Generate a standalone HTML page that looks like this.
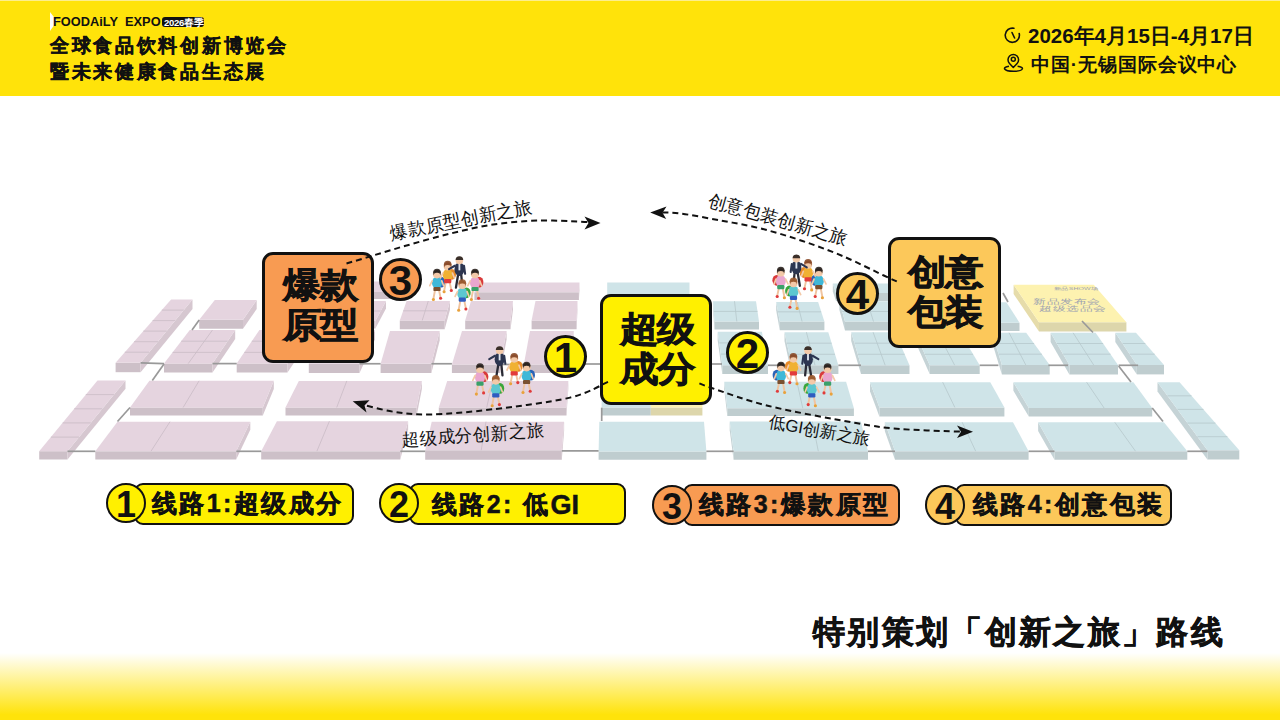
<!DOCTYPE html>
<html><head><meta charset="utf-8">
<style>
*{margin:0;padding:0;box-sizing:border-box}
html,body{width:1280px;height:720px;overflow:hidden;background:#fff;font-family:"Liberation Sans",sans-serif}
.abs{position:absolute}
#hdr{left:0;top:0;width:1280px;height:96px;background:#ffe30a;border-top:1px solid #fdee8c}
#foot{left:0;top:653px;width:1280px;height:67px;background:linear-gradient(#fff,#ffe30a 92%)}
.t{position:absolute;white-space:nowrap;font-weight:bold;color:#111;line-height:1}
.box{position:absolute;border:3px solid #111;border-radius:11px}
.bt{position:absolute;white-space:nowrap;font-weight:bold;color:#111;font-size:38px;line-height:44px;transform:scaleY(0.91);transform-origin:0 0;-webkit-text-stroke:0.9px #111;letter-spacing:-1px}
.circ{position:absolute;border:3px solid #111;border-radius:50%;text-align:center;font-weight:bold;color:#111;width:43px;height:43px;font-size:42px;line-height:39px}
.pill{position:absolute;border:2.2px solid #111;border-radius:9px;height:42px}
.pc{position:absolute;border:2.2px solid #111;border-radius:50%;width:40px;height:40px;text-align:center;font-weight:bold;font-size:36px;line-height:39px;color:#111}
.pt{position:absolute;white-space:nowrap;font-weight:bold;font-size:25px;line-height:1;color:#111;letter-spacing:2.4px;-webkit-text-stroke:0.5px #111}
</style></head><body>
<div id="hdr" class="abs"></div>
<div id="foot" class="abs"></div>
<!-- header left -->
<svg class="abs" style="left:49px;top:11px" width="10" height="21"><polygon points="1,1 8,10 1,20" fill="#fff"/></svg>
<div class="t" style="left:53px;top:16px;font-size:12.8px;letter-spacing:0px">FOODAiLY&nbsp;&nbsp;EXPO</div>
<div class="abs" style="left:162px;top:17px;width:42px;height:10px;background:#111;border-radius:3px"></div>
<div class="t" style="left:164px;top:17.5px;font-size:9.5px;color:#fff;letter-spacing:-0.3px">2026春季</div>
<svg class="abs" style="left:1000px;top:24px" width="30" height="52"><path d="M1013.9,28.3 A7.1,7.1 0 1 0 1019.2,33.5" transform="translate(-1000,-24)" fill="none" stroke="#111" stroke-width="1.6" stroke-linecap="round"/><path d="M1012,32.5 L1014.6,38" transform="translate(-1000,-24)" fill="none" stroke="#111" stroke-width="1.6" stroke-linecap="round"/><g transform="translate(-1000,-24)" fill="none" stroke="#111" stroke-width="1.5"><path d="M1013.3,67.5 L1009.5,63.5 A5.3,5.3 0 1 1 1017.1,63.5 Z" stroke-linejoin="round"/><circle cx="1013.3" cy="59.3" r="2"/><path d="M1009,66.2 C1002,67 1003,71.2 1013.5,71.2 C1024,71.2 1025,67 1017.6,66.2"/></g></svg>
<div class="t" style="left:50px;top:36px;font-size:19px;letter-spacing:2.7px;-webkit-text-stroke:0.4px #111">全球食品饮料创新博览会</div>
<div class="t" style="left:50px;top:62px;font-size:19px;letter-spacing:2.7px;-webkit-text-stroke:0.4px #111">暨未来健康食品生态展</div>
<!-- header right -->
<div class="t" style="left:1028px;top:25.5px;font-size:20.5px;letter-spacing:0px">2026年4月15日-4月17日</div>
<div class="t" style="left:1031px;top:54.5px;font-size:19px;letter-spacing:0.9px">中国·无锡国际会议中心</div>

<svg id="map" class="abs" style="left:0;top:0" width="1280" height="720">
<polygon points="115.6,362.8 140.6,362.8 140.6,372.2 115.6,372.2" fill="#cdc0c8"/>
<polygon points="192.5,299.5 140.6,362.8 140.6,372.2 192.5,308.9" fill="#d6c7d0"/>
<polygon points="171.1,299.5 192.5,299.5 140.6,362.8 115.6,362.8" fill="#e5d4df"/>
<polygon points="199.2,319.8 243.0,319.8 243.0,328.8 199.2,328.8" fill="#cdc0c8"/>
<polygon points="256.7,300.0 243.0,319.8 243.0,328.8 256.7,308.9" fill="#d6c7d0"/>
<polygon points="214.8,300.0 256.7,300.0 243.0,319.8 199.2,319.8" fill="#e5d4df"/>
<polygon points="164.0,363.6 212.5,363.6 212.5,372.5 164.0,372.5" fill="#cdc0c8"/>
<polygon points="235.2,330.0 212.5,363.6 212.5,372.5 235.2,338.9" fill="#d6c7d0"/>
<polygon points="189.8,330.0 235.2,330.0 212.5,363.6 164.0,363.6" fill="#e5d4df"/>
<polygon points="236.7,363.6 287.5,363.6 287.5,372.5 236.7,372.5" fill="#cdc0c8"/>
<polygon points="310.0,330.0 287.5,363.6 287.5,372.5 310.0,338.9" fill="#d6c7d0"/>
<polygon points="259.4,330.0 310.0,330.0 287.5,363.6 236.7,363.6" fill="#e5d4df"/>
<polygon points="308.8,363.8 359.5,363.8 359.5,373.1 308.8,373.1" fill="#cdc0c8"/>
<polygon points="375.0,330.0 359.5,363.8 359.5,373.1 375.0,339.4" fill="#d6c7d0"/>
<polygon points="325.0,330.0 375.0,330.0 359.5,363.8 308.8,363.8" fill="#e5d4df"/>
<polygon points="328.0,292.0 398.0,292.0 398.0,299.0 328.0,299.0" fill="#cdc0c8"/>
<polygon points="400.0,281.5 398.0,292.0 398.0,299.0 400.0,288.5" fill="#d6c7d0"/>
<polygon points="330.0,281.5 400.0,281.5 398.0,292.0 328.0,292.0" fill="#e5d4df"/>
<polygon points="322.0,321.0 375.4,321.0 375.4,328.4 322.0,328.4" fill="#cdc0c8"/>
<polygon points="386.0,301.0 375.4,321.0 375.4,328.4 386.0,308.4" fill="#d6c7d0"/>
<polygon points="330.0,301.0 386.0,301.0 375.4,321.0 322.0,321.0" fill="#e5d4df"/>
<polygon points="380.6,363.8 431.4,363.8 431.4,373.1 380.6,373.1" fill="#cdc0c8"/>
<polygon points="439.7,331.0 431.4,363.8 431.4,373.1 439.7,340.4" fill="#d6c7d0"/>
<polygon points="390.0,331.0 439.7,331.0 431.4,363.8 380.6,363.8" fill="#e5d4df"/>
<polygon points="399.8,320.5 444.7,320.5 444.7,329.3 399.8,329.3" fill="#cdc0c8"/>
<polygon points="450.0,301.0 444.7,320.5 444.7,329.3 450.0,309.8" fill="#d6c7d0"/>
<polygon points="406.6,301.0 450.0,301.0 444.7,320.5 399.8,320.5" fill="#e5d4df"/>
<polygon points="465.2,320.5 510.5,320.5 510.5,329.3 465.2,329.3" fill="#cdc0c8"/>
<polygon points="513.0,301.0 510.5,320.5 510.5,329.3 513.0,309.8" fill="#d6c7d0"/>
<polygon points="471.0,301.0 513.0,301.0 510.5,320.5 465.2,320.5" fill="#e5d4df"/>
<polygon points="451.9,364.5 500.3,364.5 500.3,373.1 451.9,373.1" fill="#cdc0c8"/>
<polygon points="506.6,331.0 500.3,364.5 500.3,373.1 506.6,339.6" fill="#d6c7d0"/>
<polygon points="462.0,331.0 506.6,331.0 500.3,364.5 451.9,364.5" fill="#e5d4df"/>
<polygon points="474.4,292.2 578.9,292.2 578.9,300.0 474.4,300.0" fill="#cdc0c8"/>
<polygon points="579.5,282.5 578.9,292.2 578.9,300.0 579.5,290.3" fill="#d6c7d0"/>
<polygon points="477.0,282.5 579.5,282.5 578.9,292.2 474.4,292.2" fill="#e5d4df"/>
<polygon points="531.6,320.5 576.6,320.5 576.6,329.3 531.6,329.3" fill="#cdc0c8"/>
<polygon points="577.5,301.0 576.6,320.5 576.6,329.3 577.5,309.8" fill="#d6c7d0"/>
<polygon points="535.5,301.0 577.5,301.0 576.6,320.5 531.6,320.5" fill="#e5d4df"/>
<polygon points="523.8,364.5 571.0,364.5 571.0,373.1 523.8,373.1" fill="#cdc0c8"/>
<polygon points="573.8,331.0 571.0,364.5 571.0,373.1 573.8,339.6" fill="#d6c7d0"/>
<polygon points="530.0,331.0 573.8,331.0 571.0,364.5 523.8,364.5" fill="#e5d4df"/>
<polygon points="39.2,451.2 67.5,451.2 67.5,459.5 39.2,459.5" fill="#cdc0c8"/>
<polygon points="125.5,380.5 67.5,451.2 67.5,459.5 125.5,388.8" fill="#d6c7d0"/>
<polygon points="97.5,380.5 125.5,380.5 67.5,451.2 39.2,451.2" fill="#e5d4df"/>
<polygon points="130.0,407.5 262.8,407.5 262.8,415.6 130.0,415.6" fill="#cdc0c8"/>
<polygon points="273.8,380.8 262.8,407.5 262.8,415.6 273.8,388.9" fill="#d6c7d0"/>
<polygon points="149.4,380.8 273.8,380.8 262.8,407.5 130.0,407.5" fill="#e5d4df"/>
<polygon points="95.3,451.2 236.2,451.2 236.2,459.4 95.3,459.4" fill="#cdc0c8"/>
<polygon points="250.3,421.7 236.2,451.2 236.2,459.4 250.3,429.8" fill="#d6c7d0"/>
<polygon points="117.5,421.7 250.3,421.7 236.2,451.2 95.3,451.2" fill="#e5d4df"/>
<polygon points="285.5,407.5 416.7,407.5 416.7,415.6 285.5,415.6" fill="#cdc0c8"/>
<polygon points="421.9,380.9 416.7,407.5 416.7,415.6 421.9,389.0" fill="#d6c7d0"/>
<polygon points="298.8,380.9 421.9,380.9 416.7,407.5 285.5,407.5" fill="#e5d4df"/>
<polygon points="261.2,451.2 400.3,451.2 400.3,459.4 261.2,459.4" fill="#cdc0c8"/>
<polygon points="408.1,421.2 400.3,451.2 400.3,459.4 408.1,429.4" fill="#d6c7d0"/>
<polygon points="276.9,421.2 408.1,421.2 400.3,451.2 261.2,451.2" fill="#e5d4df"/>
<polygon points="438.8,407.6 566.5,407.6 566.5,415.6 438.8,415.6" fill="#cdc0c8"/>
<polygon points="568.3,381.0 566.5,407.6 566.5,415.6 568.3,389.0" fill="#d6c7d0"/>
<polygon points="447.2,381.0 568.3,381.0 566.5,407.6 438.8,407.6" fill="#e5d4df"/>
<polygon points="425.2,450.3 561.8,450.3 561.8,459.7 425.2,459.7" fill="#cdc0c8"/>
<polygon points="564.1,421.7 561.8,450.3 561.8,459.7 564.1,431.1" fill="#d6c7d0"/>
<polygon points="431.7,421.7 564.1,421.7 561.8,450.3 425.2,450.3" fill="#e5d4df"/>
<polygon points="607.2,300.0 689.5,300.0 689.5,308.0 607.2,308.0" fill="#bfcdcf"/>
<polygon points="607.2,282.5 689.5,282.5 689.5,300.0 607.2,300.0" fill="#cfe4e8"/>
<polygon points="601.6,407.6 650.8,407.6 650.8,415.6 601.6,415.6" fill="#bfcdcf"/>
<polygon points="601.6,392.0 650.8,392.0 650.8,407.6 601.6,407.6" fill="#cfe4e8"/>
<polygon points="650.8,407.6 702.4,407.6 702.4,415.6 650.8,415.6" fill="#ddd6ab"/>
<polygon points="650.8,392.0 702.4,392.0 702.4,407.6 650.8,407.6" fill="#fdf2b0"/>
<polygon points="598.6,451.5 706.4,451.5 706.4,459.7 598.6,459.7" fill="#bfcdcf"/>
<polygon points="599.3,421.7 704.0,421.7 706.4,451.5 598.6,451.5" fill="#cfe4e8"/>
<polygon points="714.5,321.5 759.0,321.5 759.0,329.4 714.5,329.4" fill="#bfcdcf"/>
<polygon points="713.0,301.2 714.5,321.5 714.5,329.4 713.0,309.1" fill="#c5d3d6"/>
<polygon points="713.0,301.2 756.0,301.2 759.0,321.5 714.5,321.5" fill="#cfe4e8"/>
<polygon points="779.8,321.6 824.4,321.6 824.4,330.2 779.8,330.2" fill="#bfcdcf"/>
<polygon points="776.2,302.0 779.8,321.6 779.8,330.2 776.2,310.6" fill="#c5d3d6"/>
<polygon points="776.2,302.0 818.1,302.0 824.4,321.6 779.8,321.6" fill="#cfe4e8"/>
<polygon points="836.0,293.0 894.0,293.0 894.0,301.0 836.0,301.0" fill="#bfcdcf"/>
<polygon points="832.8,283.4 836.0,293.0 836.0,301.0 832.8,291.4" fill="#c5d3d6"/>
<polygon points="832.8,283.4 890.0,283.4 894.0,293.0 836.0,293.0" fill="#cfe4e8"/>
<polygon points="845.0,321.6 902.0,321.6 902.0,330.4 845.0,330.4" fill="#bfcdcf"/>
<polygon points="839.4,301.3 845.0,321.6 845.0,330.4 839.4,310.1" fill="#c5d3d6"/>
<polygon points="839.4,301.3 895.0,301.3 902.0,321.6 845.0,321.6" fill="#cfe4e8"/>
<polygon points="972.0,322.7 1019.5,322.7 1019.5,331.0 972.0,331.0" fill="#bfcdcf"/>
<polygon points="960.0,302.2 972.0,322.7 972.0,331.0 960.0,310.5" fill="#c5d3d6"/>
<polygon points="960.0,302.2 1006.4,302.2 1019.5,322.7 972.0,322.7" fill="#cfe4e8"/>
<polygon points="722.3,365.3 768.0,365.3 768.0,374.0 722.3,374.0" fill="#bfcdcf"/>
<polygon points="717.7,331.7 722.3,365.3 722.3,374.0 717.7,340.4" fill="#c5d3d6"/>
<polygon points="717.7,331.7 761.9,331.7 768.0,365.3 722.3,365.3" fill="#cfe4e8"/>
<polygon points="791.6,365.3 838.4,365.3 838.4,374.0 791.6,374.0" fill="#bfcdcf"/>
<polygon points="784.5,332.2 791.6,365.3 791.6,374.0 784.5,340.9" fill="#c5d3d6"/>
<polygon points="784.5,332.2 828.3,332.2 838.4,365.3 791.6,365.3" fill="#cfe4e8"/>
<polygon points="861.0,365.3 909.5,365.3 909.5,374.0 861.0,374.0" fill="#bfcdcf"/>
<polygon points="851.2,332.2 861.0,365.3 861.0,374.0 851.2,340.9" fill="#c5d3d6"/>
<polygon points="851.2,332.2 895.0,332.2 909.5,365.3 861.0,365.3" fill="#cfe4e8"/>
<polygon points="929.7,365.3 979.7,365.3 979.7,374.0 929.7,374.0" fill="#bfcdcf"/>
<polygon points="915.0,332.2 929.7,365.3 929.7,374.0 915.0,340.9" fill="#c5d3d6"/>
<polygon points="915.0,332.2 960.0,332.2 979.7,365.3 929.7,365.3" fill="#cfe4e8"/>
<polygon points="1001.9,365.0 1049.7,365.0 1049.7,374.4 1001.9,374.4" fill="#bfcdcf"/>
<polygon points="992.0,332.8 1001.9,365.0 1001.9,374.4 992.0,342.1" fill="#c5d3d6"/>
<polygon points="992.0,332.8 1026.2,332.8 1049.7,365.0 1001.9,365.0" fill="#cfe4e8"/>
<polygon points="1069.4,365.0 1118.0,365.0 1118.0,374.4 1069.4,374.4" fill="#bfcdcf"/>
<polygon points="1050.6,332.8 1069.4,365.0 1069.4,374.4 1050.6,342.1" fill="#c5d3d6"/>
<polygon points="1050.6,332.8 1095.6,332.8 1118.0,365.0 1069.4,365.0" fill="#cfe4e8"/>
<polygon points="1136.9,365.0 1164.0,365.0 1164.0,374.4 1136.9,374.4" fill="#bfcdcf"/>
<polygon points="1115.3,332.8 1136.9,365.0 1136.9,374.4 1115.3,342.1" fill="#c5d3d6"/>
<polygon points="1115.3,332.8 1136.0,332.8 1164.0,365.0 1136.9,365.0" fill="#cfe4e8"/>
<polygon points="1039.0,322.3 1126.4,322.3 1126.4,331.5 1039.0,331.5" fill="#ddd6ab"/>
<polygon points="1013.6,284.8 1039.0,322.3 1039.0,331.5 1013.6,294.0" fill="#e6dcaa"/>
<polygon points="1013.6,284.8 1093.7,284.8 1126.4,322.3 1039.0,322.3" fill="#fdf2b0"/>
<polygon points="727.3,408.3 853.9,408.3 853.9,416.1 727.3,416.1" fill="#bfcdcf"/>
<polygon points="724.2,381.7 727.3,408.3 727.3,416.1 724.2,389.5" fill="#c5d3d6"/>
<polygon points="724.2,381.7 846.1,381.7 853.9,408.3 727.3,408.3" fill="#cfe4e8"/>
<polygon points="879.4,407.5 1004.4,407.5 1004.4,416.6 879.4,416.6" fill="#bfcdcf"/>
<polygon points="870.0,382.2 879.4,407.5 879.4,416.6 870.0,391.3" fill="#c5d3d6"/>
<polygon points="870.0,382.2 990.3,382.2 1004.4,407.5 879.4,407.5" fill="#cfe4e8"/>
<polygon points="1028.8,408.0 1152.2,408.0 1152.2,416.6 1028.8,416.6" fill="#bfcdcf"/>
<polygon points="1013.4,382.2 1028.8,408.0 1028.8,416.6 1013.4,390.8" fill="#c5d3d6"/>
<polygon points="1013.4,382.2 1133.4,382.2 1152.2,408.0 1028.8,408.0" fill="#cfe4e8"/>
<polygon points="733.6,451.2 868.0,451.2 868.0,459.8 733.6,459.8" fill="#bfcdcf"/>
<polygon points="729.7,421.6 733.6,451.2 733.6,459.8 729.7,430.2" fill="#c5d3d6"/>
<polygon points="729.7,421.6 860.9,421.6 868.0,451.2 733.6,451.2" fill="#cfe4e8"/>
<polygon points="895.0,451.2 1028.6,451.2 1028.6,459.8 895.0,459.8" fill="#bfcdcf"/>
<polygon points="884.8,422.3 895.0,451.2 895.0,459.8 884.8,430.9" fill="#c5d3d6"/>
<polygon points="884.8,422.3 1013.0,422.3 1028.6,451.2 895.0,451.2" fill="#cfe4e8"/>
<polygon points="1054.5,451.2 1187.3,451.2 1187.3,459.8 1054.5,459.8" fill="#bfcdcf"/>
<polygon points="1038.1,422.3 1054.5,451.2 1054.5,459.8 1038.1,430.9" fill="#c5d3d6"/>
<polygon points="1038.1,422.3 1163.9,422.3 1187.3,451.2 1054.5,451.2" fill="#cfe4e8"/>
<polygon points="1207.4,450.3 1239.3,450.3 1239.3,459.6 1207.4,459.6" fill="#bfcdcf"/>
<polygon points="1157.5,382.2 1207.4,450.3 1207.4,459.6 1157.5,391.5" fill="#c5d3d6"/>
<polygon points="1157.5,382.2 1179.6,382.2 1239.3,450.3 1207.4,450.3" fill="#cfe4e8"/>
<line x1="161.8" y1="310.1" x2="183.8" y2="310.1" stroke="#c9bbc5" stroke-width="0.8"/>
<line x1="152.6" y1="320.6" x2="175.2" y2="320.6" stroke="#c9bbc5" stroke-width="0.8"/>
<line x1="143.3" y1="331.1" x2="166.6" y2="331.1" stroke="#c9bbc5" stroke-width="0.8"/>
<line x1="134.1" y1="341.7" x2="157.9" y2="341.7" stroke="#c9bbc5" stroke-width="0.8"/>
<line x1="124.8" y1="352.2" x2="149.2" y2="352.2" stroke="#c9bbc5" stroke-width="0.8"/>
<line x1="181.2" y1="341.2" x2="227.6" y2="341.2" stroke="#c9bbc5" stroke-width="0.8"/>
<line x1="172.6" y1="352.4" x2="220.1" y2="352.4" stroke="#c9bbc5" stroke-width="0.8"/>
<line x1="212.5" y1="330.0" x2="188.2" y2="363.6" stroke="#c9bbc5" stroke-width="0.8"/>
<line x1="251.8" y1="341.2" x2="302.5" y2="341.2" stroke="#c9bbc5" stroke-width="0.8"/>
<line x1="244.3" y1="352.4" x2="295.0" y2="352.4" stroke="#c9bbc5" stroke-width="0.8"/>
<line x1="403.2" y1="310.8" x2="447.4" y2="310.8" stroke="#c9bbc5" stroke-width="0.8"/>
<line x1="428.3" y1="301.0" x2="422.2" y2="320.5" stroke="#c9bbc5" stroke-width="0.8"/>
<line x1="85.8" y1="394.6" x2="113.9" y2="394.6" stroke="#c9bbc5" stroke-width="0.8"/>
<line x1="74.2" y1="408.8" x2="102.3" y2="408.8" stroke="#c9bbc5" stroke-width="0.8"/>
<line x1="62.6" y1="422.9" x2="90.7" y2="422.9" stroke="#c9bbc5" stroke-width="0.8"/>
<line x1="50.9" y1="437.1" x2="79.1" y2="437.1" stroke="#c9bbc5" stroke-width="0.8"/>
<line x1="199.1" y1="380.8" x2="183.1" y2="407.5" stroke="#c9bbc5" stroke-width="0.8"/>
<line x1="170.0" y1="421.7" x2="151.0" y2="451.2" stroke="#c9bbc5" stroke-width="0.8"/>
<line x1="346.8" y1="380.9" x2="336.7" y2="407.5" stroke="#c9bbc5" stroke-width="0.8"/>
<line x1="329.4" y1="421.2" x2="316.9" y2="451.2" stroke="#c9bbc5" stroke-width="0.8"/>
<line x1="492.6" y1="381.0" x2="486.7" y2="407.6" stroke="#c9bbc5" stroke-width="0.8"/>
<line x1="486.0" y1="421.7" x2="481.2" y2="450.3" stroke="#c9bbc5" stroke-width="0.8"/>
<line x1="796.9" y1="381.7" x2="802.8" y2="408.3" stroke="#b6c8cc" stroke-width="0.8"/>
<line x1="812.4" y1="421.6" x2="818.3" y2="451.2" stroke="#b6c8cc" stroke-width="0.8"/>
<line x1="942.7" y1="382.2" x2="954.9" y2="407.5" stroke="#b6c8cc" stroke-width="0.8"/>
<line x1="962.2" y1="422.3" x2="975.7" y2="451.2" stroke="#b6c8cc" stroke-width="0.8"/>
<line x1="1086.6" y1="382.2" x2="1104.1" y2="408.0" stroke="#b6c8cc" stroke-width="0.8"/>
<line x1="1114.8" y1="422.3" x2="1135.5" y2="451.2" stroke="#b6c8cc" stroke-width="0.8"/>
<line x1="1167.5" y1="395.8" x2="1191.5" y2="395.8" stroke="#b6c8cc" stroke-width="0.8"/>
<line x1="1177.5" y1="409.4" x2="1203.5" y2="409.4" stroke="#b6c8cc" stroke-width="0.8"/>
<line x1="1187.4" y1="423.1" x2="1215.4" y2="423.1" stroke="#b6c8cc" stroke-width="0.8"/>
<line x1="1197.4" y1="436.7" x2="1227.4" y2="436.7" stroke="#b6c8cc" stroke-width="0.8"/>
<line x1="713.8" y1="311.4" x2="757.5" y2="311.4" stroke="#b6c8cc" stroke-width="0.8"/>
<line x1="734.5" y1="301.2" x2="736.8" y2="321.5" stroke="#b6c8cc" stroke-width="0.8"/>
<line x1="778.0" y1="311.8" x2="821.2" y2="311.8" stroke="#b6c8cc" stroke-width="0.8"/>
<line x1="797.2" y1="302.0" x2="802.1" y2="321.6" stroke="#b6c8cc" stroke-width="0.8"/>
<line x1="842.2" y1="311.5" x2="898.5" y2="311.5" stroke="#b6c8cc" stroke-width="0.8"/>
<line x1="867.2" y1="301.3" x2="873.5" y2="321.6" stroke="#b6c8cc" stroke-width="0.8"/>
<line x1="719.2" y1="342.9" x2="763.9" y2="342.9" stroke="#b6c8cc" stroke-width="0.8"/>
<line x1="720.8" y1="354.1" x2="766.0" y2="354.1" stroke="#b6c8cc" stroke-width="0.8"/>
<line x1="739.8" y1="331.7" x2="745.1" y2="365.3" stroke="#b6c8cc" stroke-width="0.8"/>
<line x1="786.9" y1="343.2" x2="831.7" y2="343.2" stroke="#b6c8cc" stroke-width="0.8"/>
<line x1="789.2" y1="354.3" x2="835.0" y2="354.3" stroke="#b6c8cc" stroke-width="0.8"/>
<line x1="806.4" y1="332.2" x2="815.0" y2="365.3" stroke="#b6c8cc" stroke-width="0.8"/>
<line x1="854.5" y1="343.2" x2="899.8" y2="343.2" stroke="#b6c8cc" stroke-width="0.8"/>
<line x1="857.8" y1="354.3" x2="904.7" y2="354.3" stroke="#b6c8cc" stroke-width="0.8"/>
<line x1="873.1" y1="332.2" x2="885.2" y2="365.3" stroke="#b6c8cc" stroke-width="0.8"/>
<line x1="919.9" y1="343.2" x2="966.6" y2="343.2" stroke="#b6c8cc" stroke-width="0.8"/>
<line x1="924.8" y1="354.3" x2="973.1" y2="354.3" stroke="#b6c8cc" stroke-width="0.8"/>
<line x1="937.5" y1="332.2" x2="954.7" y2="365.3" stroke="#b6c8cc" stroke-width="0.8"/>
<line x1="995.3" y1="343.5" x2="1034.1" y2="343.5" stroke="#b6c8cc" stroke-width="0.8"/>
<line x1="998.6" y1="354.2" x2="1041.9" y2="354.2" stroke="#b6c8cc" stroke-width="0.8"/>
<line x1="1009.1" y1="332.8" x2="1025.8" y2="365.0" stroke="#b6c8cc" stroke-width="0.8"/>
<line x1="1056.9" y1="343.5" x2="1103.1" y2="343.5" stroke="#b6c8cc" stroke-width="0.8"/>
<line x1="1063.1" y1="354.2" x2="1110.5" y2="354.2" stroke="#b6c8cc" stroke-width="0.8"/>
<line x1="1073.1" y1="332.8" x2="1093.7" y2="365.0" stroke="#b6c8cc" stroke-width="0.8"/>
<line x1="1122.5" y1="343.5" x2="1145.3" y2="343.5" stroke="#b6c8cc" stroke-width="0.8"/>
<line x1="1129.7" y1="354.2" x2="1154.7" y2="354.2" stroke="#b6c8cc" stroke-width="0.8"/>
<line x1="326.0" y1="311.0" x2="380.7" y2="311.0" stroke="#c9bbc5" stroke-width="0.8"/>
<line x1="358.0" y1="301.0" x2="348.7" y2="321.0" stroke="#c9bbc5" stroke-width="0.8"/>
<g transform="matrix(1,0,0,0.55,0,0)" fill="#9ca2b0" font-family="Liberation Sans, sans-serif" text-anchor="middle"><text x="1067.0" y="552.0" font-size="13.5">新品发布会</text><text x="1073.0" y="565.5" font-size="13.5">超级选品会</text><text x="1076.0" y="526.4" font-size="7">新品SHOW场</text></g>
<line x1="140.6" y1="362.8" x2="164" y2="363.6" stroke="#999" stroke-width="1.7"/>
<line x1="212.5" y1="363.6" x2="236.7" y2="363.6" stroke="#999" stroke-width="1.7"/>
<line x1="199.2" y1="320" x2="192" y2="330" stroke="#999" stroke-width="1.7"/>
<line x1="164" y1="364" x2="152.3" y2="380.5" stroke="#999" stroke-width="1.7"/>
<line x1="67.5" y1="451.3" x2="95.3" y2="451.3" stroke="#999" stroke-width="1.7"/>
<line x1="236.3" y1="451.3" x2="261.3" y2="451.3" stroke="#999" stroke-width="1.7"/>
<line x1="130" y1="407.5" x2="117.5" y2="421.5" stroke="#999" stroke-width="1.7"/>
<line x1="400.3" y1="451.3" x2="425.2" y2="451.3" stroke="#999" stroke-width="1.7"/>
<line x1="561.8" y1="450.8" x2="598.6" y2="450.8" stroke="#999" stroke-width="1.7"/>
<line x1="706.4" y1="451.3" x2="733.6" y2="451.3" stroke="#999" stroke-width="1.7"/>
<line x1="868" y1="451.3" x2="895" y2="451.3" stroke="#999" stroke-width="1.7"/>
<line x1="1028.6" y1="451.3" x2="1054.5" y2="451.3" stroke="#999" stroke-width="1.7"/>
<line x1="1187.3" y1="451.3" x2="1207.4" y2="451.3" stroke="#999" stroke-width="1.7"/>
<line x1="601.7" y1="407.7" x2="601.7" y2="421" stroke="#999" stroke-width="1.7"/>
<line x1="768" y1="365.3" x2="791.6" y2="365.3" stroke="#999" stroke-width="1.7"/>
<line x1="838.4" y1="365.3" x2="861" y2="365.3" stroke="#999" stroke-width="1.7"/>
<line x1="979.7" y1="365.3" x2="998.4" y2="365.3" stroke="#999" stroke-width="1.7"/>
<line x1="1048.4" y1="365.3" x2="1068" y2="365.3" stroke="#999" stroke-width="1.7"/>
<line x1="1118.6" y1="365.3" x2="1138.1" y2="365.3" stroke="#999" stroke-width="1.7"/>
<line x1="1118.6" y1="366" x2="1131" y2="382" stroke="#999" stroke-width="1.7"/>
<line x1="1152.2" y1="408" x2="1163" y2="421.5" stroke="#999" stroke-width="1.7"/>
<line x1="1082" y1="321" x2="1093" y2="332.5" stroke="#999" stroke-width="1.7"/>
<line x1="1003" y1="293" x2="1008" y2="302" stroke="#999" stroke-width="1.7"/>
<line x1="359.5" y1="363.75" x2="380.6" y2="363.75" stroke="#999" stroke-width="1.7"/>
<line x1="431.4" y1="363.75" x2="451.9" y2="363.75" stroke="#999" stroke-width="1.7"/>
<line x1="500.3" y1="364.5" x2="523.75" y2="364.5" stroke="#999" stroke-width="1.7"/>
<line x1="571" y1="364" x2="600" y2="364" stroke="#999" stroke-width="1.7"/>
<line x1="712" y1="364" x2="722" y2="364" stroke="#999" stroke-width="1.7"/>
<g transform="translate(437.0,273.7) scale(1.2,1.2)"><path d="M-1.5,13 L-3,21 M1.5,13 L3,20" stroke="#f0c4a0" stroke-width="1.6" stroke-linecap="round"/><circle cx="-3" cy="21.5" r="1.3" fill="#e8a23c"/><circle cx="3" cy="20.5" r="1.3" fill="#e03b3b"/><ellipse cx="3.5" cy="7" rx="3.5" ry="4.5" fill="#2a63b8"/><ellipse cx="0" cy="7.5" rx="4.2" ry="5" fill="#3fb8d8"/><rect x="-3" y="11" width="6" height="3.5" rx="1" fill="#7a5030"/><path d="M-4,6 L-6,10 M4,6 L5.5,10" stroke="#f3c9a8" stroke-width="1.4" stroke-linecap="round"/><circle cx="0" cy="0.5" r="3.4" fill="#f3c9a8"/><path d="M-3.5,0.5 A3.5,3.5 0 0 1 3.5,0.5 L3.2,-1 L-3.2,-1 Z" fill="#2b2420"/><circle cx="0" cy="-1" r="3.2" fill="#2b2420" opacity="0.9"/><ellipse cx="0" cy="1.3" rx="2.6" ry="2" fill="#f3c9a8"/></g><g transform="translate(447.7,265.9) scale(1.2,1.2)"><path d="M-1.5,13 L-3,21 M1.5,13 L3,20" stroke="#f0c4a0" stroke-width="1.6" stroke-linecap="round"/><circle cx="-3" cy="21.5" r="1.3" fill="#e8a23c"/><circle cx="3" cy="20.5" r="1.3" fill="#e03b3b"/><ellipse cx="3.5" cy="7" rx="3.5" ry="4.5" fill="#e88a2a"/><ellipse cx="0" cy="7.5" rx="4.2" ry="5" fill="#f0b132"/><rect x="-3" y="11" width="6" height="3.5" rx="1" fill="#e23b3b"/><path d="M-4,6 L-6,10 M4,6 L5.5,10" stroke="#f3c9a8" stroke-width="1.4" stroke-linecap="round"/><circle cx="0" cy="0.5" r="3.4" fill="#f3c9a8"/><path d="M-3.5,0.5 A3.5,3.5 0 0 1 3.5,0.5 L3.2,-1 L-3.2,-1 Z" fill="#8a4b2a"/><circle cx="0" cy="-1" r="3.2" fill="#8a4b2a" opacity="0.9"/><ellipse cx="0" cy="1.3" rx="2.6" ry="2" fill="#f3c9a8"/></g><g transform="translate(459.4,260) scale(1.15,1.15)"><path d="M-1,12 L-3,24 M1.5,12 L2.5,22" stroke="#2a2a35" stroke-width="2" stroke-linecap="round"/><ellipse cx="0" cy="8" rx="4.3" ry="6" fill="#2c3550"/><rect x="-0.8" y="3" width="1.6" height="6" fill="#dfe6f0"/><path d="M-4,5 L-9,8 M4,5 L5,12" stroke="#2c3550" stroke-width="1.8" stroke-linecap="round"/><circle cx="0" cy="0.5" r="3.3" fill="#f3c9a8"/><path d="M-3.3,0 A3.3,3.3 0 0 1 3.3,0 Z" fill="#3b302a"/></g><g transform="translate(475.0,273.7) scale(1.2,1.2)"><path d="M-1.5,13 L-3,21 M1.5,13 L3,20" stroke="#f0c4a0" stroke-width="1.6" stroke-linecap="round"/><circle cx="-3" cy="21.5" r="1.3" fill="#e8a23c"/><circle cx="3" cy="20.5" r="1.3" fill="#e03b3b"/><ellipse cx="3.5" cy="7" rx="3.5" ry="4.5" fill="#d93a3a"/><ellipse cx="0" cy="7.5" rx="4.2" ry="5" fill="#e9a6cf"/><rect x="-3" y="11" width="6" height="3.5" rx="1" fill="#3aa06a"/><path d="M-4,6 L-6,10 M4,6 L5.5,10" stroke="#f3c9a8" stroke-width="1.4" stroke-linecap="round"/><circle cx="0" cy="0.5" r="3.4" fill="#f3c9a8"/><path d="M-3.5,0.5 A3.5,3.5 0 0 1 3.5,0.5 L3.2,-1 L-3.2,-1 Z" fill="#2b2420"/><circle cx="0" cy="-1" r="3.2" fill="#2b2420" opacity="0.9"/><ellipse cx="0" cy="1.3" rx="2.6" ry="2" fill="#f3c9a8"/></g><g transform="translate(462.29999999999995,284.4) scale(1.2,1.2)"><path d="M-1.5,13 L-3,21 M1.5,13 L3,20" stroke="#f0c4a0" stroke-width="1.6" stroke-linecap="round"/><circle cx="-3" cy="21.5" r="1.3" fill="#e8a23c"/><circle cx="3" cy="20.5" r="1.3" fill="#e03b3b"/><ellipse cx="3.5" cy="7" rx="3.5" ry="4.5" fill="#3aa63a"/><ellipse cx="0" cy="7.5" rx="4.2" ry="5" fill="#5cc7d0"/><rect x="-3" y="11" width="6" height="3.5" rx="1" fill="#2f5cc0"/><path d="M-4,6 L-6,10 M4,6 L5.5,10" stroke="#f3c9a8" stroke-width="1.4" stroke-linecap="round"/><circle cx="0" cy="0.5" r="3.4" fill="#f3c9a8"/><path d="M-3.5,0.5 A3.5,3.5 0 0 1 3.5,0.5 L3.2,-1 L-3.2,-1 Z" fill="#9a5a30"/><circle cx="0" cy="-1" r="3.2" fill="#9a5a30" opacity="0.9"/><ellipse cx="0" cy="1.3" rx="2.6" ry="2" fill="#f3c9a8"/></g>
<g transform="translate(480.0,368.3) scale(1.2,1.2)"><path d="M-1.5,13 L-3,21 M1.5,13 L3,20" stroke="#f0c4a0" stroke-width="1.6" stroke-linecap="round"/><circle cx="-3" cy="21.5" r="1.3" fill="#e8a23c"/><circle cx="3" cy="20.5" r="1.3" fill="#e03b3b"/><ellipse cx="3.5" cy="7" rx="3.5" ry="4.5" fill="#d93a3a"/><ellipse cx="0" cy="7.5" rx="4.2" ry="5" fill="#e9a6cf"/><rect x="-3" y="11" width="6" height="3.5" rx="1" fill="#3aa06a"/><path d="M-4,6 L-6,10 M4,6 L5.5,10" stroke="#f3c9a8" stroke-width="1.4" stroke-linecap="round"/><circle cx="0" cy="0.5" r="3.4" fill="#f3c9a8"/><path d="M-3.5,0.5 A3.5,3.5 0 0 1 3.5,0.5 L3.2,-1 L-3.2,-1 Z" fill="#2b2420"/><circle cx="0" cy="-1" r="3.2" fill="#2b2420" opacity="0.9"/><ellipse cx="0" cy="1.3" rx="2.6" ry="2" fill="#f3c9a8"/></g><g transform="translate(499.6,350) scale(1.15,1.15)"><path d="M-1,12 L-3,24 M1.5,12 L2.5,22" stroke="#2a2a35" stroke-width="2" stroke-linecap="round"/><ellipse cx="0" cy="8" rx="4.3" ry="6" fill="#2c3550"/><rect x="-0.8" y="3" width="1.6" height="6" fill="#dfe6f0"/><path d="M-4,5 L-9,8 M4,5 L5,12" stroke="#2c3550" stroke-width="1.8" stroke-linecap="round"/><circle cx="0" cy="0.5" r="3.3" fill="#f3c9a8"/><path d="M-3.3,0 A3.3,3.3 0 0 1 3.3,0 Z" fill="#3b302a"/></g><g transform="translate(514.2,358) scale(1.2,1.2)"><path d="M-1.5,13 L-3,21 M1.5,13 L3,20" stroke="#f0c4a0" stroke-width="1.6" stroke-linecap="round"/><circle cx="-3" cy="21.5" r="1.3" fill="#e8a23c"/><circle cx="3" cy="20.5" r="1.3" fill="#e03b3b"/><ellipse cx="3.5" cy="7" rx="3.5" ry="4.5" fill="#e88a2a"/><ellipse cx="0" cy="7.5" rx="4.2" ry="5" fill="#f0b132"/><rect x="-3" y="11" width="6" height="3.5" rx="1" fill="#e23b3b"/><path d="M-4,6 L-6,10 M4,6 L5.5,10" stroke="#f3c9a8" stroke-width="1.4" stroke-linecap="round"/><circle cx="0" cy="0.5" r="3.4" fill="#f3c9a8"/><path d="M-3.5,0.5 A3.5,3.5 0 0 1 3.5,0.5 L3.2,-1 L-3.2,-1 Z" fill="#8a4b2a"/><circle cx="0" cy="-1" r="3.2" fill="#8a4b2a" opacity="0.9"/><ellipse cx="0" cy="1.3" rx="2.6" ry="2" fill="#f3c9a8"/></g><g transform="translate(526.6,366.7) scale(1.2,1.2)"><path d="M-1.5,13 L-3,21 M1.5,13 L3,20" stroke="#f0c4a0" stroke-width="1.6" stroke-linecap="round"/><circle cx="-3" cy="21.5" r="1.3" fill="#e8a23c"/><circle cx="3" cy="20.5" r="1.3" fill="#e03b3b"/><ellipse cx="3.5" cy="7" rx="3.5" ry="4.5" fill="#2a63b8"/><ellipse cx="0" cy="7.5" rx="4.2" ry="5" fill="#3fb8d8"/><rect x="-3" y="11" width="6" height="3.5" rx="1" fill="#7a5030"/><path d="M-4,6 L-6,10 M4,6 L5.5,10" stroke="#f3c9a8" stroke-width="1.4" stroke-linecap="round"/><circle cx="0" cy="0.5" r="3.4" fill="#f3c9a8"/><path d="M-3.5,0.5 A3.5,3.5 0 0 1 3.5,0.5 L3.2,-1 L-3.2,-1 Z" fill="#2b2420"/><circle cx="0" cy="-1" r="3.2" fill="#2b2420" opacity="0.9"/><ellipse cx="0" cy="1.3" rx="2.6" ry="2" fill="#f3c9a8"/></g><g transform="translate(495.8,380) scale(1.2,1.2)"><path d="M-1.5,13 L-3,21 M1.5,13 L3,20" stroke="#f0c4a0" stroke-width="1.6" stroke-linecap="round"/><circle cx="-3" cy="21.5" r="1.3" fill="#e8a23c"/><circle cx="3" cy="20.5" r="1.3" fill="#e03b3b"/><ellipse cx="3.5" cy="7" rx="3.5" ry="4.5" fill="#3aa63a"/><ellipse cx="0" cy="7.5" rx="4.2" ry="5" fill="#5cc7d0"/><rect x="-3" y="11" width="6" height="3.5" rx="1" fill="#2f5cc0"/><path d="M-4,6 L-6,10 M4,6 L5.5,10" stroke="#f3c9a8" stroke-width="1.4" stroke-linecap="round"/><circle cx="0" cy="0.5" r="3.4" fill="#f3c9a8"/><path d="M-3.5,0.5 A3.5,3.5 0 0 1 3.5,0.5 L3.2,-1 L-3.2,-1 Z" fill="#9a5a30"/><circle cx="0" cy="-1" r="3.2" fill="#9a5a30" opacity="0.9"/><ellipse cx="0" cy="1.3" rx="2.6" ry="2" fill="#f3c9a8"/></g>
<g transform="translate(818.8,271.9) scale(-1.2,1.2)"><path d="M-1.5,13 L-3,21 M1.5,13 L3,20" stroke="#f0c4a0" stroke-width="1.6" stroke-linecap="round"/><circle cx="-3" cy="21.5" r="1.3" fill="#e8a23c"/><circle cx="3" cy="20.5" r="1.3" fill="#e03b3b"/><ellipse cx="3.5" cy="7" rx="3.5" ry="4.5" fill="#2a63b8"/><ellipse cx="0" cy="7.5" rx="4.2" ry="5" fill="#3fb8d8"/><rect x="-3" y="11" width="6" height="3.5" rx="1" fill="#7a5030"/><path d="M-4,6 L-6,10 M4,6 L5.5,10" stroke="#f3c9a8" stroke-width="1.4" stroke-linecap="round"/><circle cx="0" cy="0.5" r="3.4" fill="#f3c9a8"/><path d="M-3.5,0.5 A3.5,3.5 0 0 1 3.5,0.5 L3.2,-1 L-3.2,-1 Z" fill="#2b2420"/><circle cx="0" cy="-1" r="3.2" fill="#2b2420" opacity="0.9"/><ellipse cx="0" cy="1.3" rx="2.6" ry="2" fill="#f3c9a8"/></g><g transform="translate(808.1,264.09999999999997) scale(-1.2,1.2)"><path d="M-1.5,13 L-3,21 M1.5,13 L3,20" stroke="#f0c4a0" stroke-width="1.6" stroke-linecap="round"/><circle cx="-3" cy="21.5" r="1.3" fill="#e8a23c"/><circle cx="3" cy="20.5" r="1.3" fill="#e03b3b"/><ellipse cx="3.5" cy="7" rx="3.5" ry="4.5" fill="#e88a2a"/><ellipse cx="0" cy="7.5" rx="4.2" ry="5" fill="#f0b132"/><rect x="-3" y="11" width="6" height="3.5" rx="1" fill="#e23b3b"/><path d="M-4,6 L-6,10 M4,6 L5.5,10" stroke="#f3c9a8" stroke-width="1.4" stroke-linecap="round"/><circle cx="0" cy="0.5" r="3.4" fill="#f3c9a8"/><path d="M-3.5,0.5 A3.5,3.5 0 0 1 3.5,0.5 L3.2,-1 L-3.2,-1 Z" fill="#8a4b2a"/><circle cx="0" cy="-1" r="3.2" fill="#8a4b2a" opacity="0.9"/><ellipse cx="0" cy="1.3" rx="2.6" ry="2" fill="#f3c9a8"/></g><g transform="translate(796.4,258.2) scale(-1.15,1.15)"><path d="M-1,12 L-3,24 M1.5,12 L2.5,22" stroke="#2a2a35" stroke-width="2" stroke-linecap="round"/><ellipse cx="0" cy="8" rx="4.3" ry="6" fill="#2c3550"/><rect x="-0.8" y="3" width="1.6" height="6" fill="#dfe6f0"/><path d="M-4,5 L-9,8 M4,5 L5,12" stroke="#2c3550" stroke-width="1.8" stroke-linecap="round"/><circle cx="0" cy="0.5" r="3.3" fill="#f3c9a8"/><path d="M-3.3,0 A3.3,3.3 0 0 1 3.3,0 Z" fill="#3b302a"/></g><g transform="translate(780.8,271.9) scale(-1.2,1.2)"><path d="M-1.5,13 L-3,21 M1.5,13 L3,20" stroke="#f0c4a0" stroke-width="1.6" stroke-linecap="round"/><circle cx="-3" cy="21.5" r="1.3" fill="#e8a23c"/><circle cx="3" cy="20.5" r="1.3" fill="#e03b3b"/><ellipse cx="3.5" cy="7" rx="3.5" ry="4.5" fill="#d93a3a"/><ellipse cx="0" cy="7.5" rx="4.2" ry="5" fill="#e9a6cf"/><rect x="-3" y="11" width="6" height="3.5" rx="1" fill="#3aa06a"/><path d="M-4,6 L-6,10 M4,6 L5.5,10" stroke="#f3c9a8" stroke-width="1.4" stroke-linecap="round"/><circle cx="0" cy="0.5" r="3.4" fill="#f3c9a8"/><path d="M-3.5,0.5 A3.5,3.5 0 0 1 3.5,0.5 L3.2,-1 L-3.2,-1 Z" fill="#2b2420"/><circle cx="0" cy="-1" r="3.2" fill="#2b2420" opacity="0.9"/><ellipse cx="0" cy="1.3" rx="2.6" ry="2" fill="#f3c9a8"/></g><g transform="translate(793.5,282.59999999999997) scale(-1.2,1.2)"><path d="M-1.5,13 L-3,21 M1.5,13 L3,20" stroke="#f0c4a0" stroke-width="1.6" stroke-linecap="round"/><circle cx="-3" cy="21.5" r="1.3" fill="#e8a23c"/><circle cx="3" cy="20.5" r="1.3" fill="#e03b3b"/><ellipse cx="3.5" cy="7" rx="3.5" ry="4.5" fill="#3aa63a"/><ellipse cx="0" cy="7.5" rx="4.2" ry="5" fill="#5cc7d0"/><rect x="-3" y="11" width="6" height="3.5" rx="1" fill="#2f5cc0"/><path d="M-4,6 L-6,10 M4,6 L5.5,10" stroke="#f3c9a8" stroke-width="1.4" stroke-linecap="round"/><circle cx="0" cy="0.5" r="3.4" fill="#f3c9a8"/><path d="M-3.5,0.5 A3.5,3.5 0 0 1 3.5,0.5 L3.2,-1 L-3.2,-1 Z" fill="#9a5a30"/><circle cx="0" cy="-1" r="3.2" fill="#9a5a30" opacity="0.9"/><ellipse cx="0" cy="1.3" rx="2.6" ry="2" fill="#f3c9a8"/></g>
<g transform="translate(827.6,368.3) scale(-1.2,1.2)"><path d="M-1.5,13 L-3,21 M1.5,13 L3,20" stroke="#f0c4a0" stroke-width="1.6" stroke-linecap="round"/><circle cx="-3" cy="21.5" r="1.3" fill="#e8a23c"/><circle cx="3" cy="20.5" r="1.3" fill="#e03b3b"/><ellipse cx="3.5" cy="7" rx="3.5" ry="4.5" fill="#d93a3a"/><ellipse cx="0" cy="7.5" rx="4.2" ry="5" fill="#e9a6cf"/><rect x="-3" y="11" width="6" height="3.5" rx="1" fill="#3aa06a"/><path d="M-4,6 L-6,10 M4,6 L5.5,10" stroke="#f3c9a8" stroke-width="1.4" stroke-linecap="round"/><circle cx="0" cy="0.5" r="3.4" fill="#f3c9a8"/><path d="M-3.5,0.5 A3.5,3.5 0 0 1 3.5,0.5 L3.2,-1 L-3.2,-1 Z" fill="#2b2420"/><circle cx="0" cy="-1" r="3.2" fill="#2b2420" opacity="0.9"/><ellipse cx="0" cy="1.3" rx="2.6" ry="2" fill="#f3c9a8"/></g><g transform="translate(808,350) scale(-1.15,1.15)"><path d="M-1,12 L-3,24 M1.5,12 L2.5,22" stroke="#2a2a35" stroke-width="2" stroke-linecap="round"/><ellipse cx="0" cy="8" rx="4.3" ry="6" fill="#2c3550"/><rect x="-0.8" y="3" width="1.6" height="6" fill="#dfe6f0"/><path d="M-4,5 L-9,8 M4,5 L5,12" stroke="#2c3550" stroke-width="1.8" stroke-linecap="round"/><circle cx="0" cy="0.5" r="3.3" fill="#f3c9a8"/><path d="M-3.3,0 A3.3,3.3 0 0 1 3.3,0 Z" fill="#3b302a"/></g><g transform="translate(793.4,358) scale(-1.2,1.2)"><path d="M-1.5,13 L-3,21 M1.5,13 L3,20" stroke="#f0c4a0" stroke-width="1.6" stroke-linecap="round"/><circle cx="-3" cy="21.5" r="1.3" fill="#e8a23c"/><circle cx="3" cy="20.5" r="1.3" fill="#e03b3b"/><ellipse cx="3.5" cy="7" rx="3.5" ry="4.5" fill="#e88a2a"/><ellipse cx="0" cy="7.5" rx="4.2" ry="5" fill="#f0b132"/><rect x="-3" y="11" width="6" height="3.5" rx="1" fill="#e23b3b"/><path d="M-4,6 L-6,10 M4,6 L5.5,10" stroke="#f3c9a8" stroke-width="1.4" stroke-linecap="round"/><circle cx="0" cy="0.5" r="3.4" fill="#f3c9a8"/><path d="M-3.5,0.5 A3.5,3.5 0 0 1 3.5,0.5 L3.2,-1 L-3.2,-1 Z" fill="#8a4b2a"/><circle cx="0" cy="-1" r="3.2" fill="#8a4b2a" opacity="0.9"/><ellipse cx="0" cy="1.3" rx="2.6" ry="2" fill="#f3c9a8"/></g><g transform="translate(781,366.7) scale(-1.2,1.2)"><path d="M-1.5,13 L-3,21 M1.5,13 L3,20" stroke="#f0c4a0" stroke-width="1.6" stroke-linecap="round"/><circle cx="-3" cy="21.5" r="1.3" fill="#e8a23c"/><circle cx="3" cy="20.5" r="1.3" fill="#e03b3b"/><ellipse cx="3.5" cy="7" rx="3.5" ry="4.5" fill="#2a63b8"/><ellipse cx="0" cy="7.5" rx="4.2" ry="5" fill="#3fb8d8"/><rect x="-3" y="11" width="6" height="3.5" rx="1" fill="#7a5030"/><path d="M-4,6 L-6,10 M4,6 L5.5,10" stroke="#f3c9a8" stroke-width="1.4" stroke-linecap="round"/><circle cx="0" cy="0.5" r="3.4" fill="#f3c9a8"/><path d="M-3.5,0.5 A3.5,3.5 0 0 1 3.5,0.5 L3.2,-1 L-3.2,-1 Z" fill="#2b2420"/><circle cx="0" cy="-1" r="3.2" fill="#2b2420" opacity="0.9"/><ellipse cx="0" cy="1.3" rx="2.6" ry="2" fill="#f3c9a8"/></g><g transform="translate(811.8,380) scale(-1.2,1.2)"><path d="M-1.5,13 L-3,21 M1.5,13 L3,20" stroke="#f0c4a0" stroke-width="1.6" stroke-linecap="round"/><circle cx="-3" cy="21.5" r="1.3" fill="#e8a23c"/><circle cx="3" cy="20.5" r="1.3" fill="#e03b3b"/><ellipse cx="3.5" cy="7" rx="3.5" ry="4.5" fill="#3aa63a"/><ellipse cx="0" cy="7.5" rx="4.2" ry="5" fill="#5cc7d0"/><rect x="-3" y="11" width="6" height="3.5" rx="1" fill="#2f5cc0"/><path d="M-4,6 L-6,10 M4,6 L5.5,10" stroke="#f3c9a8" stroke-width="1.4" stroke-linecap="round"/><circle cx="0" cy="0.5" r="3.4" fill="#f3c9a8"/><path d="M-3.5,0.5 A3.5,3.5 0 0 1 3.5,0.5 L3.2,-1 L-3.2,-1 Z" fill="#9a5a30"/><circle cx="0" cy="-1" r="3.2" fill="#9a5a30" opacity="0.9"/><ellipse cx="0" cy="1.3" rx="2.6" ry="2" fill="#f3c9a8"/></g>
</svg>

<!-- big boxes -->
<div class="box" style="left:262px;top:252px;width:112px;height:111px;background:#f89b52"></div>
<div class="box" style="left:600px;top:294px;width:112px;height:111px;background:#fff000"></div>
<div class="box" style="left:888px;top:237px;width:113px;height:111px;background:#fcc85a"></div>
<div class="bt" style="left:283px;top:265px">爆款<br>原型</div>
<div class="bt" style="left:620px;top:308.5px">超级<br>成分</div>
<div class="bt" style="left:908px;top:252px">创意<br>包装</div>

<svg class="abs" style="left:0;top:0" width="1280" height="720">
<path d="M346.5,263.5 C350.9,262.2 362.9,258.6 372.8,255.6 C382.7,252.7 392.8,249.4 405.6,245.8 C418.4,242.2 434.8,237.3 449.4,233.8 C464.0,230.2 478.4,226.8 493.0,224.6 C507.6,222.4 522.4,221.1 537.0,220.6 C551.6,220.1 571.4,221.4 580.6,221.7 C589.8,222.0 590.1,222.4 592.0,222.6" stroke="#111" stroke-width="2" fill="none" stroke-dasharray="6,4"/>
<path d="M600.5,223 L584.5,216.5 L588.5,223 L584.5,229.5 Z" fill="#111"/>
<path d="M896.8,281.4 C894.6,280.4 892.7,279.7 883.8,275.5 C874.8,271.3 856.5,261.9 843.0,256.2 C829.5,250.4 816.0,245.6 802.5,241.0 C789.0,236.4 775.4,232.2 761.9,228.8 C748.4,225.3 734.8,223.1 721.2,220.6 C707.7,218.1 690.8,214.8 680.6,213.5 C670.4,212.2 663.4,212.7 660.0,212.5" stroke="#111" stroke-width="2" fill="none" stroke-dasharray="6,4"/>
<path d="M650.2,212.5 L666.5,206.5 L662.5,212.8 L666.2,219 Z" fill="#111"/>
<path d="M608.0,381.9 C601.7,384.5 589.2,393.0 570.0,397.6 C550.8,402.2 515.9,406.5 492.6,409.3 C469.3,412.1 446.3,414.1 430.0,414.5 C413.7,414.9 405.7,413.5 395.0,412.0 C384.3,410.5 370.8,406.6 366.0,405.5" stroke="#111" stroke-width="2" fill="none" stroke-dasharray="6,4"/>
<path d="M352.7,401.2 L369.5,400.2 L364.5,405.5 L366.5,412.4 Z" fill="#111"/>
<path d="M699.4,383.4 C701.5,384.2 700.1,384.2 711.7,388.0 C723.3,391.8 744.7,400.2 768.8,406.0 C792.8,411.8 834.1,419.2 856.0,423.0 C877.9,426.8 882.3,427.6 900.0,429.0 C917.7,430.4 951.7,431.2 962.0,431.7" stroke="#111" stroke-width="2" fill="none" stroke-dasharray="6,4"/>
<path d="M973,431.7 L957,425.5 L961,431.7 L957,438 Z" fill="#111"/>
<text x="461" y="220" transform="rotate(-11 461 220)" font-family="Liberation Sans, sans-serif" fill="#111" text-anchor="middle" dominant-baseline="central" font-size="18">爆款原型创新之旅</text>
<text x="778" y="219.6" transform="rotate(16 778 219.6)" font-family="Liberation Sans, sans-serif" fill="#111" text-anchor="middle" dominant-baseline="central" font-size="18">创意包装创新之旅</text>
<text x="473" y="435" transform="rotate(-4 473 435)" font-family="Liberation Sans, sans-serif" fill="#111" text-anchor="middle" dominant-baseline="central" font-size="17.5">超级成分创新之旅</text>
<text x="819.5" y="431" transform="rotate(10 819.5 431)" font-family="Liberation Sans, sans-serif" fill="#111" text-anchor="middle" dominant-baseline="central" font-size="17">低GI创新之旅</text>
</svg>
<div class="circ" style="left:379px;top:258px;background:#f89b52">3</div>
<div class="circ" style="left:544px;top:335px;background:#fff000">1</div>
<div class="circ" style="left:726px;top:331px;background:#fff000">2</div>
<div class="circ" style="left:836px;top:272px;background:#fcc85a">4</div>

<!-- legend -->
<div class="pill" style="left:134px;top:483px;width:220px;background:#fff000"></div>
<div class="pc" style="left:106px;top:483px;background:#fff000">1</div>
<div class="pt" style="left:152px;top:491px">线路1:超级成分</div>

<div class="pill" style="left:409px;top:483px;width:217px;background:#fff000"></div>
<div class="pc" style="left:379px;top:483px;background:#fff000">2</div>
<div class="pt" style="left:432px;top:491px">线路2: 低<span style="letter-spacing:0;font-size:27px;position:relative;top:0.5px">GI</span></div>

<div class="pill" style="left:683px;top:484px;width:217px;background:#f89b52"></div>
<div class="pc" style="left:652px;top:485px;background:#f89b52">3</div>
<div class="pt" style="left:699px;top:492px">线路3:爆款原型</div>

<div class="pill" style="left:955px;top:484px;width:217px;background:#fcc85a"></div>
<div class="pc" style="left:925px;top:485px;background:#fcc85a">4</div>
<div class="pt" style="left:973px;top:492px">线路4:创意包装</div>

<div class="t" style="left:813px;top:616px;font-size:32px;letter-spacing:2.35px;-webkit-text-stroke:0.6px #111">特别策划「创新之旅」路线</div>
</body></html>
